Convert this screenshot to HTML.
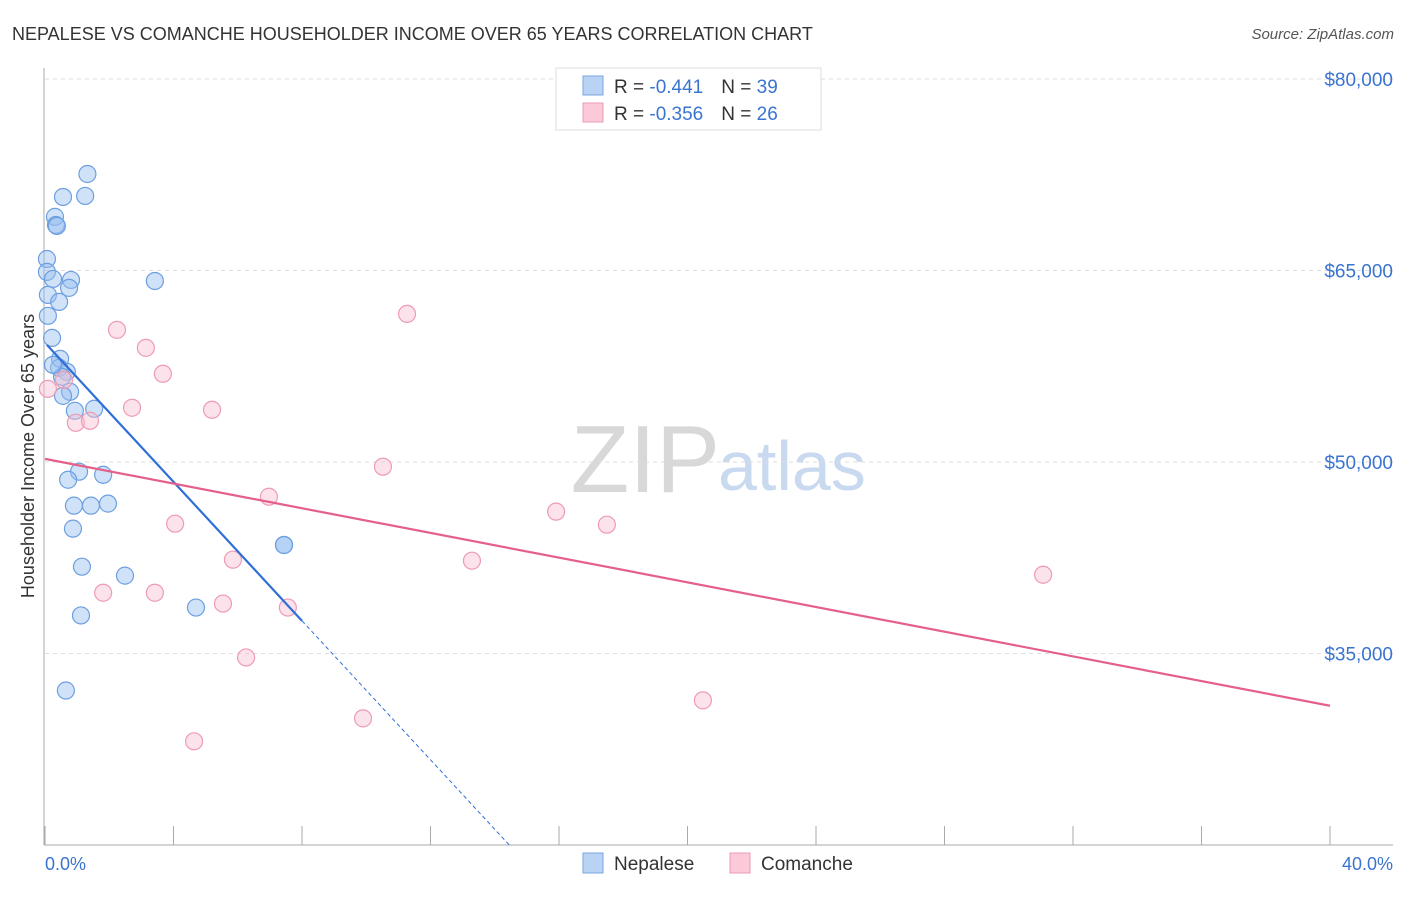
<!DOCTYPE html>
<html><head><meta charset="utf-8"><style>
body{margin:0;background:#fff;font-family:"Liberation Sans",sans-serif;}
svg text{font-family:"Liberation Sans",sans-serif;}
</style></head><body>
<svg id="chart" width="1406" height="892">
<text x="12" y="40" font-size="18" fill="#333">NEPALESE VS COMANCHE HOUSEHOLDER INCOME OVER 65 YEARS CORRELATION CHART</text>
<text x="1394" y="39" font-size="15" fill="#555" font-style="italic" text-anchor="end">Source: ZipAtlas.com</text>
<text x="720" y="492" font-size="96" fill="#d8d8d8" text-anchor="end" font-family="Liberation Serif">ZIP</text>
<text x="718" y="490" font-size="70" fill="#c9d9ef">atlas</text>
<g id="grid"></g><g id="axes"></g><g id="marks"></g>
<text transform="translate(34,456) rotate(-90)" font-size="18" fill="#333" text-anchor="middle">Householder Income Over 65 years</text>
<text x="45" y="870" font-size="18" fill="#3a74d0">0.0%</text>
<text x="1393" y="870" font-size="18" fill="#3a74d0" text-anchor="end">40.0%</text>
<g>
<rect x="556" y="68" width="265" height="62" fill="#fff" stroke="#ddd"/>
<rect x="583" y="76" width="20" height="19" fill="#b9d3f5" stroke="#7aa5e0"/>
<rect x="583" y="103" width="20" height="19" fill="#fbc9d8" stroke="#ee9bb5"/>
<text x="614" y="93" font-size="19" fill="#333">R = <tspan fill="#3a74d0">-0.441</tspan><tspan dx="18">N = </tspan><tspan fill="#3a74d0">39</tspan></text>
<text x="614" y="120" font-size="19" fill="#333">R = <tspan fill="#3a74d0">-0.356</tspan><tspan dx="18">N = </tspan><tspan fill="#3a74d0">26</tspan></text>
</g>
<g>
<rect x="583" y="853" width="20" height="20" fill="#b9d3f5" stroke="#7aa5e0"/>
<text x="614" y="870" font-size="19" fill="#333">Nepalese</text>
<rect x="730" y="853" width="20" height="20" fill="#fbc9d8" stroke="#ee9bb5"/>
<text x="761" y="870" font-size="19" fill="#333">Comanche</text>
</g>
</svg>
<script>
const yTicks=[35000,50000,65000,80000];
const yTickLabels=["$35,000","$50,000","$65,000","$80,000"];
const xTicks=[0,4,8,12,16,20,24,28,32,36,40];
const nepaleseX=[1.32,1.25,0.56,0.31,0.34,0.37,0.06,0.06,0.25,0.81,0.75,3.42,0.09,0.44,0.09,0.22,0.47,0.44,0.68,0.53,0.78,0.56,0.93,1.53,1.06,1.81,0.72,0.9,1.43,1.96,0.87,1.15,2.49,4.7,1.12,0.65,7.44,7.44,0.25];
const nepaleseY=[72560,70840,70760,69200,68570,68490,65900,64890,64340,64260,63640,64180,63090,62540,61450,59720,58080,57380,57060,56670,55500,55180,54010,54170,49240,49000,48610,46580,46580,46740,44780,41800,41100,38600,37980,32100,43500,43500,57610];
const comancheX=[2.24,3.14,3.67,2.71,5.2,0.96,1.4,0.59,0.09,11.27,10.52,6.97,4.05,15.91,17.49,13.29,5.85,31.07,1.81,3.42,5.54,7.56,6.26,9.9,20.48,4.64];
const comancheY=[60350,58940,56910,54250,54090,53070,53230,56430,55730,61600,49630,47280,45170,46110,45090,42270,42350,41170,39760,39760,38910,38600,34690,29920,31330,28120];
const nepaleseFit=[[0.06,59170],[8,37560]];
const comancheFit=[[0,50245],[40,30906]];
const NS="http://www.w3.org/2000/svg";
const X0=45,X1=1330,YT=79,YB=845,VMIN=20000,VMAX=80000;
function xs(v){return X0+(v/40)*(X1-X0);}
function ys(v){return YB-(v-VMIN)/(VMAX-VMIN)*(YB-YT);}
function mk(tag,attrs,parent){const e=document.createElementNS(NS,tag);for(const k in attrs)e.setAttribute(k,attrs[k]);parent.appendChild(e);return e;}
const grid=document.getElementById('grid'),axes=document.getElementById('axes'),marks=document.getElementById('marks');
yTicks.forEach((t,i)=>{
 const l=mk('line',{x1:X0,x2:1393,y1:ys(t),y2:ys(t),stroke:'#ddd','stroke-dasharray':'4,4'},grid);
 
 
 const tx=mk('text',{x:1393,y:ys(t)+7,'font-size':19,fill:'#3a74d0','text-anchor':'end'},grid);
 tx.textContent=yTickLabels[i];
 
 
});
const ya=mk('line',{x1:44,x2:44,y1:68,y2:YB,stroke:'#aaa'},axes);


const xa=mk('line',{x1:44,x2:1393,y1:YB,y2:YB,stroke:'#aaa'},axes);


xTicks.forEach(t=>{
 const l=mk('line',{x1:xs(t),x2:xs(t),y1:826,y2:YB,stroke:'#aaa'},axes);
 
 
});
nepaleseX.forEach((v,i)=>{
 const c=mk('circle',{cx:xs(v),cy:ys(nepaleseY[i]),r:8.5,fill:'rgba(150,190,240,0.45)',stroke:'#6d9fe0','stroke-width':1.2},marks);
 
 
});
comancheX.forEach((v,i)=>{
 const c=mk('circle',{cx:xs(v),cy:ys(comancheY[i]),r:8.5,fill:'rgba(248,190,208,0.45)',stroke:'#ee9bb5','stroke-width':1.2},marks);
 
 
});
const nf=nepaleseFit,slope=(nf[1][1]-nf[0][1])/(nf[1][0]-nf[0][0]);
const xEnd=nf[0][0]+(VMIN-nf[0][1])/slope;
const bl=mk('line',{x1:xs(nf[0][0]),y1:ys(nf[0][1]),x2:xs(nf[1][0]),y2:ys(nf[1][1]),stroke:'#2f6fd6','stroke-width':2.2},marks);


const bd=mk('line',{x1:xs(nf[1][0]),y1:ys(nf[1][1]),x2:xs(xEnd),y2:ys(VMIN),stroke:'#2f6fd6','stroke-width':1,'stroke-dasharray':'4,3'},marks);


const pl=mk('line',{x1:xs(comancheFit[0][0]),y1:ys(comancheFit[0][1]),x2:xs(comancheFit[1][0]),y2:ys(comancheFit[1][1]),stroke:'#e4608a','stroke-width':2.2},marks);


</script>
</body></html>
